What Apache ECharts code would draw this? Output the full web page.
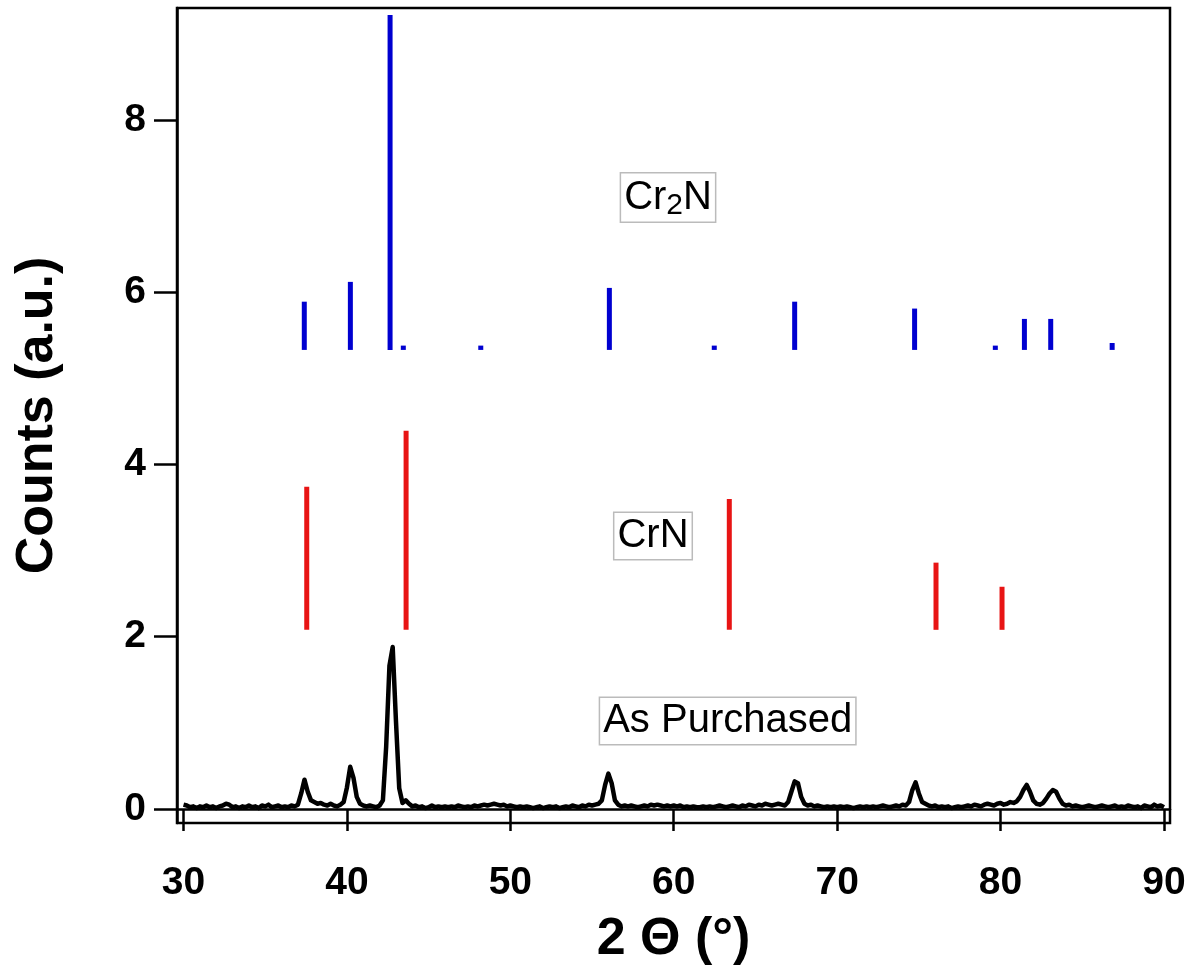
<!DOCTYPE html>
<html lang="en">
<head>
    <meta charset="UTF-8">
    <title>XRD</title>
    <script src="https://cdn.jsdelivr.net/npm/echarts@6/dist/echarts.min.js"></script>
    <style>
        html, body { margin: 0; padding: 0; background: #fff; }
    </style>
</head>
<body>
<div id="main" style="width: 1192px;height:975px;"></div>
<script>
    // measured pattern: 2theta from 30 to 90, step 0.2
    var thetaStart = 30;
    var thetaStep = 0.2;
    var counts = [
        0.05,0.04,0.02,0.03,0.01,0.03,0.02,0.04,0.02,0.03,
        0.01,0.03,0.04,0.06,0.05,0.02,0.03,0.01,0.03,0.02,
        0.04,0.02,0.03,0.01,0.04,0.03,0.05,0.02,0.03,0.04,
        0.02,0.03,0.02,0.04,0.03,0.05,0.18,0.34,0.20,0.10,
        0.08,0.06,0.07,0.05,0.04,0.06,0.04,0.03,0.05,0.08,
        0.25,0.49,0.36,0.14,0.06,0.04,0.03,0.04,0.03,0.02,
        0.04,0.10,0.72,1.66,1.88,1.02,0.24,0.07,0.10,0.06,
        0.03,0.04,0.02,0.03,0.01,0.02,0.04,0.02,0.03,0.02,
        0.03,0.02,0.03,0.02,0.04,0.03,0.02,0.03,0.02,0.04,
        0.03,0.04,0.05,0.04,0.05,0.06,0.05,0.04,0.05,0.03,
        0.04,0.03,0.02,0.03,0.02,0.03,0.02,0.01,0.02,0.03,
        0.01,0.02,0.03,0.02,0.03,0.01,0.02,0.03,0.02,0.04,
        0.03,0.02,0.04,0.03,0.05,0.04,0.05,0.06,0.10,0.28,
        0.41,0.30,0.10,0.05,0.03,0.04,0.03,0.04,0.03,0.02,
        0.03,0.04,0.03,0.05,0.04,0.05,0.04,0.03,0.04,0.03,
        0.04,0.03,0.04,0.02,0.03,0.02,0.03,0.02,0.02,0.03,
        0.02,0.03,0.02,0.03,0.04,0.03,0.02,0.03,0.04,0.03,
        0.02,0.04,0.03,0.05,0.04,0.03,0.05,0.04,0.06,0.05,
        0.04,0.05,0.06,0.05,0.04,0.08,0.20,0.32,0.30,0.14,
        0.06,0.04,0.05,0.03,0.04,0.03,0.02,0.03,0.02,0.03,
        0.02,0.03,0.02,0.03,0.02,0.01,0.02,0.03,0.02,0.03,
        0.02,0.03,0.02,0.03,0.04,0.03,0.02,0.03,0.04,0.03,
        0.05,0.04,0.08,0.22,0.31,0.18,0.08,0.06,0.04,0.03,
        0.04,0.02,0.03,0.02,0.03,0.01,0.02,0.03,0.02,0.03,
        0.04,0.03,0.05,0.04,0.03,0.05,0.06,0.05,0.04,0.06,
        0.07,0.05,0.06,0.08,0.07,0.09,0.14,0.22,0.28,0.20,
        0.10,0.06,0.05,0.07,0.12,0.18,0.22,0.20,0.12,0.06,
        0.04,0.05,0.03,0.04,0.03,0.02,0.03,0.04,0.03,0.02,
        0.03,0.04,0.03,0.02,0.03,0.04,0.02,0.03,0.02,0.04,
        0.03,0.02,0.03,0.01,0.04,0.03,0.02,0.05,0.03,0.04,
        0.02
    ];

    // reference sticks
    var cr2nPos = [37.39, 40.21, 42.64, 43.45, 48.19, 56.06, 62.48, 67.40, 74.74, 79.68, 81.46, 83.07, 86.83];
    var cr2nTop = [5.89, 6.12, 9.22, 5.38, 5.38, 6.05, 5.38, 5.89, 5.81, 5.38, 5.69, 5.69, 5.41];
    var cr2nBase = 5.33;

    var crnPos = [37.54, 43.62, 63.40, 76.05, 80.09];
    var crnTop = [3.74, 4.39, 3.60, 2.86, 2.58];
    var crnBase = 2.08;

    var xTicks = [30, 40, 50, 60, 70, 80, 90];
    var yTicks = [0, 2, 4, 6, 8];

    var labelX = [59.65, 58.73, 63.3];
    var labelY = [7.10, 3.17, 1.02];
    var labelText = ['{c|Cr}{s|2}{c|N}', '{n|CrN}', '{n|As Purchased}'];

    var font = "'Liberation Sans', Arial, sans-serif";

    var myChart = echarts.init(document.getElementById('main'));

    var pattern = [];
    for (var i = 0; i < counts.length; i++) {
        pattern.push([+(thetaStart + i * thetaStep).toFixed(1), counts[i]]);
    }

    function sticks(pos, top, base) {
        var out = [];
        for (var i = 0; i < pos.length; i++) {
            out.push([pos[i], base, top[i]]);
        }
        return out;
    }

    function stickSeries(name, data, color) {
        return {
            name: name,
            type: 'custom',
            data: data,
            clip: true,
            renderItem: function (params, api) {
                var p0 = api.coord([api.value(0), api.value(1)]);
                var p1 = api.coord([api.value(0), api.value(2)]);
                return {
                    type: 'line',
                    shape: { x1: p0[0], y1: p0[1], x2: p1[0], y2: p1[1] },
                    style: { stroke: color, lineWidth: 5, lineCap: 'butt' }
                };
            }
        };
    }

    var labelData = [];
    for (var k = 0; k < labelX.length; k++) {
        labelData.push({ value: [labelX[k], labelY[k]], label: { formatter: labelText[k] } });
    }

    var option = {
        animation: false,
        grid: {
            left: 177,
            right: 22,
            top: 8,
            bottom: 152,
            show: true,
            borderColor: '#000',
            borderWidth: 2.5
        },
        xAxis: {
            type: 'value',
            min: 29.6,
            max: 90.37,
            name: '2 \u0398 (\u00b0)',
            nameLocation: 'middle',
            nameGap: 91,
            nameTextStyle: { fontFamily: font, fontSize: 52, fontWeight: 'bold', color: '#000' },
            axisLine: { show: true, lineStyle: { color: '#000', width: 2.5 } },
            axisTick: { show: true, length: 22, lineStyle: { color: '#000', width: 2.5 }, customValues: xTicks },
            axisLabel: { margin: 41, fontFamily: font, fontSize: 39, fontWeight: 'bold', color: '#000', customValues: xTicks },
            splitLine: { show: false }
        },
        yAxis: {
            type: 'value',
            min: -0.163,
            max: 9.30,
            name: 'Counts (a.u.)',
            nameLocation: 'middle',
            nameGap: 113,
            nameTextStyle: { fontFamily: font, fontSize: 52, fontWeight: 'bold', color: '#000' },
            axisLine: { show: true, lineStyle: { color: '#000', width: 2.5 } },
            axisTick: { show: true, length: 23, lineStyle: { color: '#000', width: 2.5 }, customValues: yTicks },
            axisLabel: { margin: 31, fontFamily: font, fontSize: 39, fontWeight: 'bold', color: '#000', customValues: yTicks },
            splitLine: { show: false }
        },
        series: [
            stickSeries('Cr2N', sticks(cr2nPos, cr2nTop, cr2nBase), '#0000d0'),
            stickSeries('CrN', sticks(crnPos, crnTop, crnBase), '#e81414'),
            {
                name: 'As Purchased',
                type: 'line',
                data: pattern,
                showSymbol: false,
                lineStyle: { color: '#000', width: 4.5, join: 'round' },
                z: 3
            },
            {
                name: 'labels',
                type: 'scatter',
                symbolSize: 0,
                data: labelData,
                z: 5,
                itemStyle: { opacity: 1 },
                label: {
                    show: true,
                    position: 'inside',
                    opacity: 1,
                    color: '#000',
                    backgroundColor: '#fff',
                    borderColor: '#bbb',
                    borderWidth: 1.5,
                    padding: [1, 3, 1, 3],
                    rich: {
                        n: { fontFamily: font, fontSize: 40, lineHeight: 44, color: '#000' },
                        c: { fontFamily: font, fontSize: 40, lineHeight: 46, color: '#000', verticalAlign: 'top', padding: [3, 0, 0, 0] },
                        s: { fontFamily: font, fontSize: 30, lineHeight: 30, color: '#000', verticalAlign: 'bottom', padding: [22, 0, 0, 0] }
                    }
                }
            }
        ]
    };
    myChart.setOption(option);
</script>
</body>
</html>
